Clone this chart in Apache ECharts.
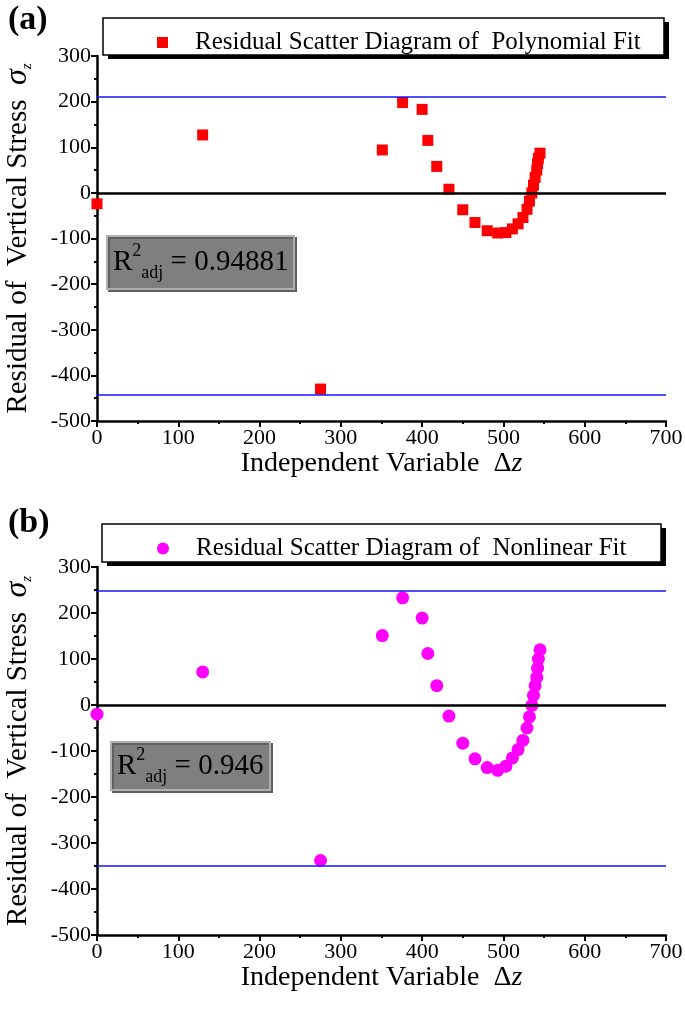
<!DOCTYPE html>
<html><head><meta charset="utf-8">
<script src="https://cdn.jsdelivr.net/npm/echarts@6/dist/echarts.min.js"></script>
<style>html,body{margin:0;padding:0;background:#fff}#c{width:685px;height:1009px}</style>
</head><body><div id="c"></div>
<script>
// ---- data ----
const deltaZ = [0, 130, 275, 351, 376, 400, 407, 418, 433, 450, 465, 480, 493, 503, 511, 518, 524, 529, 532, 535, 537, 539, 541, 542, 543, 545];
const polyResidual = [-24, 127, -430, 94, 198, 183, 115, 58, 8, -37, -65, -83, -88, -87, -79, -68, -54, -36, -18, 0, 17, 34, 50, 64, 76, 87];
const nonlinResidual = [-20, 72, -338, 151, 233, 189, 112, 42, -24, -83, -117, -136, -142, -133, -115, -97, -77, -50, -26, -1, 21, 42, 60, 80, 100, 120];
const polyBounds = [210, -443];
const nonlinBounds = [248, -350];
const xTickValues = [0, 100, 200, 300, 400, 500, 600, 700];
const yTickValues = [-500, -400, -300, -200, -100, 0, 100, 200, 300];
const polyName = 'Residual Scatter Diagram of  Polynomial Fit';
const nonlinName = 'Residual Scatter Diagram of  Nonlinear Fit';
const polyR2 = '0.94881';
const nonlinR2 = '0.946';

const FONT = 'Liberation Serif';
const chart = echarts.init(document.getElementById('c'), null, {renderer: 'canvas'});

function pairs(xs, ys) { return xs.map((x, i) => [x, ys[i]]); }

function xAxisCfg(gridIndex) {
  return {
    gridIndex, type: 'value', min: xTickValues[0], max: xTickValues[xTickValues.length - 1], interval: 100,
    axisLine: {show: true, onZero: false, lineStyle: {color: '#000', width: 2.5}},
    axisTick: {show: true, inside: false, length: 6, lineStyle: {color: '#000', width: 2}},
    minorTick: {show: true, splitNumber: 2, length: 3, lineStyle: {color: '#000', width: 2}},
    splitLine: {show: false},
    axisLabel: {color: '#000', fontSize: 22, fontFamily: FONT, margin: 6, showMinLabel: true, showMaxLabel: true},
    name: '{t|Independent Variable  Δ}{i|z}',
    nameLocation: 'middle', nameGap: 26,
    nameTextStyle: {rich: {
      t: {fontSize: 28, fontFamily: FONT, color: '#000'},
      i: {fontSize: 28, fontFamily: FONT, fontStyle: 'italic', color: '#000'}
    }}
  };
}
function yAxisCfg(gridIndex) {
  return {
    gridIndex, type: 'value', min: yTickValues[0], max: yTickValues[yTickValues.length - 1], interval: 100,
    axisLine: {show: true, onZero: false, lineStyle: {color: '#000', width: 2.5}},
    axisTick: {show: true, inside: false, length: 6, lineStyle: {color: '#000', width: 2}},
    minorTick: {show: true, splitNumber: 2, length: 3, lineStyle: {color: '#000', width: 2}},
    splitLine: {show: false},
    axisLabel: {color: '#000', fontSize: 22, fontFamily: FONT, margin: 6, showMinLabel: true, showMaxLabel: true},
    name: '{t|Residual of  Vertical Stress  }{s|σ}{z|z}',
    nameLocation: 'middle', nameGap: 62, nameRotate: 90,
    nameTextStyle: {rich: {
      t: {fontSize: 29, fontFamily: FONT, color: '#000', lineHeight: 34},
      s: {fontSize: 32, fontFamily: FONT, fontStyle: 'italic', color: '#000', lineHeight: 34},
      z: {fontSize: 15, fontFamily: FONT, fontStyle: 'italic', color: '#000', verticalAlign: 'bottom', lineHeight: 22}
    }}
  };
}
function refLines(bounds) {
  return {
    symbol: ['none', 'none'], silent: true, animation: false,
    label: {show: false},
    data: [
      {yAxis: bounds[0], lineStyle: {color: '#1414ff', width: 1.6, type: 'solid'}},
      {yAxis: bounds[1], lineStyle: {color: '#1414ff', width: 1.6, type: 'solid'}},
      {yAxis: 0, lineStyle: {color: '#000', width: 2.5, type: 'solid'}}
    ]
  };
}
function r2Box(x, y, w, h, value) {
  return {
    type: 'group', x, y, z: 20,
    children: [
      {type: 'rect', shape: {x: 0, y: 0, width: w, height: h},
       style: {fill: '#7f7f7f', stroke: '#b0b0b0', lineWidth: 2, shadowColor: '#606060', shadowOffsetX: 2, shadowOffsetY: 2, shadowBlur: 0}, z: 20},
      {type: 'text', x: 6, y: h / 2, z: 21,
       style: {text: '{r|R}{sup|2}{sub|adj}{r| = ' + value + '}', verticalAlign: 'middle', align: 'left',
         rich: {
           r: {fontSize: 29, fontFamily: FONT, fill: '#000', lineHeight: 40},
           sup: {fontSize: 18, fontFamily: FONT, fill: '#000', lineHeight: 24, verticalAlign: 'top'},
           sub: {fontSize: 18, fontFamily: FONT, fill: '#000', lineHeight: 22, verticalAlign: 'bottom'}
         }}}
    ]
  };
}
function legendBox(x, y, w, h) {
  return [
    {type: 'rect', shape: {x: x + 5, y: y + 4, width: w, height: h}, z: 1, style: {fill: '#000'}},
    {type: 'rect', shape: {x, y, width: w, height: h}, z: 2, style: {fill: '#fff', stroke: '#000', lineWidth: 1.5}}
  ];
}

const option = {
  backgroundColor: '#fff',
  animation: false,
  grid: [
    {left: 97, top: 56, width: 569, height: 365, outerBoundsMode: 'none', containLabel: false},
    {left: 97, top: 567, width: 569, height: 368, outerBoundsMode: 'none', containLabel: false}
  ],
  xAxis: [xAxisCfg(0), xAxisCfg(1)],
  yAxis: [yAxisCfg(0), yAxisCfg(1)],
  legend: [
    {data: [polyName], left: 157, top: 30, padding: 0, itemWidth: 11, itemHeight: 11, icon: 'rect',
     selectedMode: false, z: 10, textStyle: {fontSize: 25, fontFamily: FONT, color: '#000', padding: [0, 0, 0, 22]}},
    {data: [nonlinName], left: 157, top: 536, padding: 0, itemWidth: 12, itemHeight: 12, icon: 'circle',
     selectedMode: false, z: 10, textStyle: {fontSize: 25, fontFamily: FONT, color: '#000', padding: [0, 0, 0, 22]}}
  ],
  series: [
    {name: polyName, type: 'scatter', xAxisIndex: 0, yAxisIndex: 0, symbol: 'rect', symbolSize: 11,
     itemStyle: {color: '#ff0000', opacity: 1}, data: pairs(deltaZ, polyResidual), markLine: refLines(polyBounds), z: 3},
    {name: nonlinName, type: 'scatter', xAxisIndex: 1, yAxisIndex: 1, symbol: 'circle', symbolSize: 13,
     itemStyle: {color: '#ff00ff', opacity: 1}, data: pairs(deltaZ, nonlinResidual), markLine: refLines(nonlinBounds), z: 3}
  ],
  graphic: [
    ...legendBox(103, 18, 561, 37),
    ...legendBox(102, 524, 559, 38),
    r2Box(107, 236, 187, 53, polyR2),
    r2Box(111, 742, 159, 48, nonlinR2),
    {type: 'text', x: 8, y: 3, z: 5, style: {text: '(a)', fontSize: 34, fontWeight: 'bold', fontFamily: FONT, fill: '#000'}},
    {type: 'text', x: 8, y: 506, z: 5, style: {text: '(b)', fontSize: 34, fontWeight: 'bold', fontFamily: FONT, fill: '#000'}}
  ]
};
chart.setOption(option);
</script>
</body></html>
